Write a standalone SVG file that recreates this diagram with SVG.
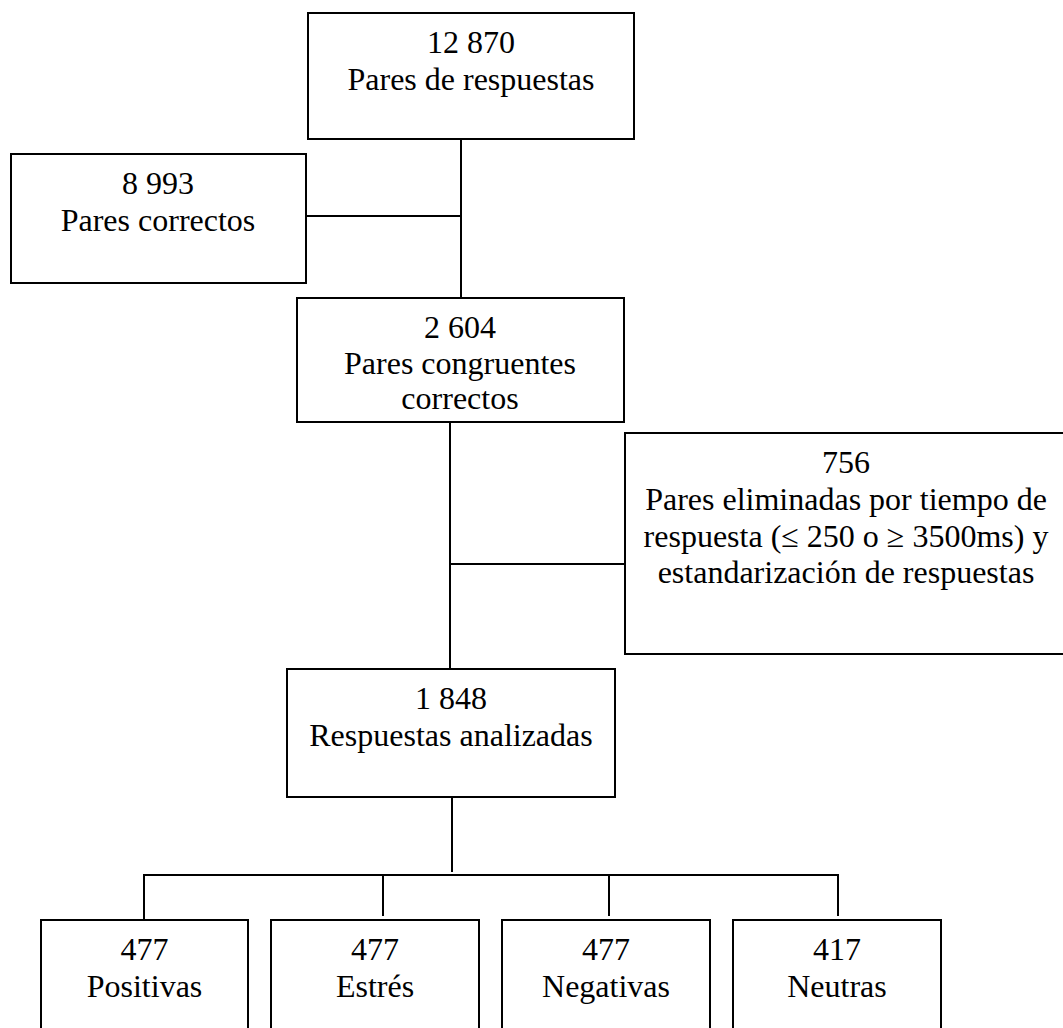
<svg xmlns="http://www.w3.org/2000/svg" width="1063" height="1028" viewBox="0 0 1063 1028">
<style>
.box{fill:#fff;stroke:#000;stroke-width:2}
.con{stroke:#000;stroke-width:2;fill:none}
text{font-family:"Liberation Serif","Times New Roman",serif;font-size:32px;fill:#000;text-anchor:middle}
</style>
<rect width="1063" height="1028" fill="#fff"/>
<g id="connectors">
<line class="con" x1="461" y1="139" x2="461" y2="298"/>
<line class="con" x1="306" y1="216" x2="461" y2="216"/>
<line class="con" x1="450" y1="422" x2="450" y2="669"/>
<line class="con" x1="450" y1="564" x2="625" y2="564"/>
<line class="con" x1="452" y1="797" x2="452" y2="872"/>
<polyline class="con" points="144,920 144,875 838,875 838,916"/>
<line class="con" x1="383" y1="875" x2="383" y2="916"/>
<line class="con" x1="609" y1="875" x2="609" y2="916"/>
</g>
<g id="n1">
<rect class="box" x="308" y="13" width="326" height="126"/>
<text x="471" y="53">12 870</text>
<text x="471" y="90">Pares de respuestas</text>
</g>
<g id="n2">
<rect class="box" x="11" y="154" width="295" height="129"/>
<text x="158" y="194">8 993</text>
<text x="158" y="231">Pares correctos</text>
</g>
<g id="n3">
<rect class="box" x="297" y="298" width="327" height="124"/>
<text x="460" y="338">2 604</text>
<text x="460" y="374">Pares congruentes</text>
<text x="460" y="409">correctos</text>
</g>
<g id="n4">
<rect class="box" x="625" y="433" width="442" height="221"/>
<text x="846" y="473">756</text>
<text x="846" y="510">Pares eliminadas por tiempo de</text>
<text x="846" y="547">respuesta (≤ 250 o ≥ 3500ms) y</text>
<text x="846" y="583">estandarización de respuestas</text>
</g>
<g id="n5">
<rect class="box" x="287" y="669" width="328" height="128"/>
<text x="451" y="709">1 848</text>
<text x="451" y="746">Respuestas analizadas</text>
</g>
<g id="n6">
<rect class="box" x="41" y="920" width="207" height="130"/>
<text x="144.5" y="960">477</text>
<text x="144.5" y="997">Positivas</text>
</g>
<g id="n7">
<rect class="box" x="271" y="920" width="208" height="130"/>
<text x="375" y="960">477</text>
<text x="375" y="997">Estrés</text>
</g>
<g id="n8">
<rect class="box" x="502" y="920" width="208" height="130"/>
<text x="606" y="960">477</text>
<text x="606" y="997">Negativas</text>
</g>
<g id="n9">
<rect class="box" x="733" y="920" width="208" height="130"/>
<text x="837" y="960">417</text>
<text x="837" y="997">Neutras</text>
</g>
</svg>
